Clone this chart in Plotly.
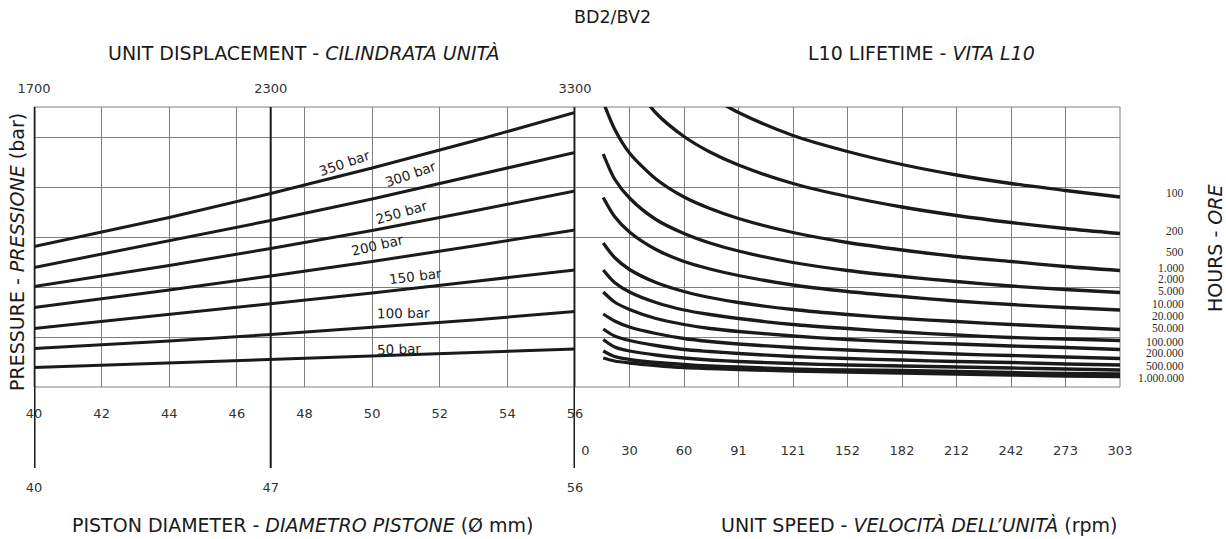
import plotly.graph_objects as go

# ---------------- data ----------------
# Left panel: pressure lines vs piston diameter (y = common load scale, grid units)
DIAMETER = [40, 44, 47, 50, 53, 56]
P350 = [2.81, 3.39, 3.87, 4.38, 4.92, 5.49]
P300 = [2.39, 2.92, 3.33, 3.76, 4.22, 4.69]
P250 = [2.01, 2.43, 2.77, 3.13, 3.52, 3.92]
P200 = [1.59, 1.94, 2.22, 2.51, 2.82, 3.14]
P150 = [1.17, 1.45, 1.66, 1.88, 2.11, 2.34]
P100 = [0.77, 0.92, 1.05, 1.19, 1.34, 1.51]
P50 = [0.39, 0.48, 0.55, 0.62, 0.69, 0.76]
PRESSURE_LINES = [P50, P100, P150, P200, P250, P300, P350]
PRESSURE_LABELS = ["50 bar", "100 bar", "150 bar", "200 bar", "250 bar", "300 bar", "350 bar"]
LABEL_D = [50.78, 50.93, 51.29, 50.16, 50.88, 51.13, 49.18]
LABEL_Y = [0.76, 1.49, 2.22, 2.84, 3.51, 4.27, 4.48]
LABEL_ANGLE = [-2, -1, -7, -13, -16, -19, -19]

DIAM_TICKS = [40, 42, 44, 46, 48, 50, 52, 54, 56]
DISP_TICKS = [40, 47, 56]
DISP_LABELS = ["1700", "2300", "3300"]
DIAM_MAIN = ["40", "47", "56"]

# Right panel: L10 lifetime curves vs unit speed
SPEED = [15.7, 22, 30.3, 45, 60.6, 75, 90.9, 121.2, 151.5, 181.8, 212.1, 242.4, 272.7, 303]
H100 = [None, None, None, None, None, 5.81, 5.49, 5.03, 4.71, 4.45, 4.24, 4.07, 3.93, 3.80]
H200 = [None, None, 6.18, 5.48, 5.01, 4.70, 4.44, 4.07, 3.81, 3.60, 3.43, 3.29, 3.17, 3.07]
H500 = [5.70, 5.16, 4.68, 4.16, 3.80, 3.57, 3.37, 3.09, 2.89, 2.74, 2.61, 2.51, 2.41, 2.33]
H1K = [4.66, 4.16, 3.78, 3.35, 3.07, 2.88, 2.72, 2.49, 2.33, 2.21, 2.11, 2.02, 1.95, 1.89]
H2K = [3.79, 3.41, 3.10, 2.75, 2.51, 2.36, 2.23, 2.04, 1.91, 1.81, 1.72, 1.65, 1.59, 1.54]
H5K = [2.88, 2.59, 2.35, 2.09, 1.91, 1.79, 1.69, 1.55, 1.45, 1.37, 1.31, 1.25, 1.20, 1.15]
H10K = [2.34, 2.09, 1.90, 1.69, 1.54, 1.45, 1.37, 1.25, 1.17, 1.10, 1.04, 0.99, 0.96, 0.93]
H20K = [1.90, 1.70, 1.55, 1.37, 1.25, 1.17, 1.11, 1.02, 0.95, 0.90, 0.86, 0.82, 0.79, 0.75]
H50K = [1.46, 1.32, 1.20, 1.07, 0.97, 0.91, 0.86, 0.79, 0.74, 0.70, 0.66, 0.63, 0.60, 0.57]
H100K = [1.16, 1.02, 0.93, 0.83, 0.75, 0.71, 0.67, 0.61, 0.57, 0.54, 0.51, 0.49, 0.46, 0.44]
H200K = [0.95, 0.80, 0.72, 0.64, 0.58, 0.54, 0.51, 0.47, 0.44, 0.42, 0.40, 0.38, 0.36, 0.34]
H500K = [0.72, 0.61, 0.55, 0.49, 0.45, 0.42, 0.40, 0.36, 0.34, 0.33, 0.31, 0.29, 0.27, 0.26]
H1M = [0.58, 0.52, 0.48, 0.43, 0.39, 0.37, 0.35, 0.32, 0.30, 0.28, 0.26, 0.24, 0.22, 0.21]
LIFE_CURVES = [H100, H200, H500, H1K, H2K, H5K, H10K, H20K, H50K, H100K, H200K, H500K, H1M]

SPEED_TICKS = [0, 30.3, 60.6, 90.9, 121.2, 151.5, 181.8, 212.1, 242.4, 272.7, 303]
SPEED_LABELS = ["0", "30", "60", "91", "121", "152", "182", "212", "242", "273", "303"]

HOUR_POS = [3.88, 3.12, 2.70, 2.38, 2.16, 1.92, 1.66, 1.42, 1.18, 0.90, 0.68, 0.42, 0.18]
HOUR_LABELS = ["100", "200", "500", "1.000", "2.000", "5.000", "10.000", "20.000",
               "50.000", "100.000", "200.000", "500.000", "1.000.000"]

# ---------------- figure ----------------
W, H = 1226, 539
ML, MR, MT, MB = 34, 36, 107, 152
PW = W - ML - MR
PH = H - MT - MB
S_LEFT, S_TOP, S_BOTTOM = ML, MT, H - MB        # pixel positions of plot area
dL = (575 - S_LEFT) / PW
dR = (1120 - S_LEFT) / PW

GRID = "#7f7f7f"
INK = "#1a1a1a"
FONT = "DejaVu Sans"
tickfont = dict(family=FONT, size=13, color="#333333")

fig = go.Figure()

for vals in PRESSURE_LINES:
    fig.add_trace(go.Scatter(x=DIAMETER, y=vals, mode="lines", xaxis="x", yaxis="y",
                             line=dict(color=INK, width=3),
                             hoverinfo="skip", showlegend=False))

for vals in LIFE_CURVES:
    fig.add_trace(go.Scatter(x=SPEED, y=vals, mode="lines", xaxis="x2", yaxis="y",
                             line=dict(color=INK, width=3.3, shape="spline", smoothing=0.8),
                             connectgaps=False, hoverinfo="skip", showlegend=False))

# empty traces so that the secondary axes (displacement, main diameters) are drawn
for xa in ["x3", "x4"]:
    fig.add_trace(go.Scatter(x=[], y=[], mode="lines", xaxis=xa, yaxis="y",
                             hoverinfo="skip", showlegend=False))

speed_text = ["\u00a0" * 5 + SPEED_LABELS[0]] + SPEED_LABELS[1:]

fig.update_layout(
    width=W, height=H,
    margin=dict(l=ML, r=MR, t=MT, b=MB),
    paper_bgcolor="white", plot_bgcolor="white",
    showlegend=False,
    xaxis=dict(domain=[0, dL], range=[40, 56], tickvals=DIAM_TICKS, ticks="",
               showgrid=True, gridcolor=GRID, gridwidth=1, zeroline=False, showline=False,
               tickfont=tickfont, ticklabelstandoff=17, anchor="y"),
    xaxis2=dict(domain=[dL, dR], range=[0, 303], tickvals=SPEED_TICKS, ticktext=speed_text,
                ticks="", showgrid=True, gridcolor=GRID, gridwidth=1, zeroline=False,
                showline=False, tickfont=tickfont, ticklabelstandoff=54, anchor="y"),
    xaxis3=dict(overlaying="x", side="top", range=[40, 56], tickvals=DISP_TICKS,
                ticktext=DISP_LABELS, ticks="", showgrid=False, zeroline=False,
                tickfont=tickfont, ticklabelstandoff=10, anchor="y"),
    xaxis4=dict(overlaying="x", side="bottom", range=[40, 56], tickvals=DISP_TICKS,
                ticktext=DIAM_MAIN, ticks="", showgrid=False, zeroline=False,
                tickfont=tickfont, ticklabelstandoff=91, anchor="y"),
    yaxis=dict(domain=[0, 1], range=[0, 5.6], tick0=0, dtick=1, showticklabels=False,
               ticks="", showgrid=True, gridcolor=GRID, gridwidth=1, zeroline=False,
               showline=False, anchor="x"),
)

shapes = []
for xr in ["x domain", "x2 domain"]:
    shapes.append(dict(type="rect", xref=xr, yref="y domain", x0=0, x1=1, y0=0, y1=1,
                       line=dict(color=GRID, width=1), layer="below"))
ext = -(468 - S_BOTTOM) / PH
for xv, wd in [(40, 3), (47, 2), (56, 3)]:
    shapes.append(dict(type="line", xref="x", yref="paper", x0=xv, x1=xv, y0=ext, y1=1,
                       line=dict(color=INK, width=wd)))
fig.update_layout(shapes=shapes)


def px_x(p):
    return (p - S_LEFT) / PW


def px_y(p):
    return (S_BOTTOM - p) / PH


def label(text, sx, sy, size=19, angle=0):
    return dict(text=text, x=px_x(sx), y=px_y(sy), xref="paper", yref="paper",
                xanchor="center", yanchor="middle", showarrow=False, textangle=angle,
                font=dict(family=FONT, size=size, color=INK))


ann = [
    label("BD2/BV2", 612, 17, size=17.5),
    label("UNIT DISPLACEMENT - <i>CILINDRATA UNITÀ</i>", 303, 53),
    label("L10 LIFETIME - <i>VITA L10</i>", 921, 53),
    label("PISTON DIAMETER - <i>DIAMETRO PISTONE</i> (Ø mm)", 303, 525),
    label("UNIT SPEED - <i>VELOCITÀ DELL’UNITÀ</i> (rpm)", 919, 525),
    label("PRESSURE - <i>PRESSIONE</i> (bar)", 17, 252, angle=-90),
    label("HOURS - <i>ORE</i>", 1215, 248, angle=-90),
]
for t, xd, yd, a in zip(PRESSURE_LABELS, LABEL_D, LABEL_Y, LABEL_ANGLE):
    ann.append(dict(text=t, x=xd, y=yd, xref="x", yref="y", showarrow=False, textangle=a,
                    xanchor="center", yanchor="middle",
                    font=dict(family=FONT, size=13.5, color=INK)))
# hours scale labels, right-aligned, placed on the shared load axis
for t, yv in zip(HOUR_LABELS, HOUR_POS):
    ann.append(dict(text=t, x=px_x(1186), y=yv, xref="paper", yref="y", showarrow=False,
                    xanchor="right", yanchor="middle",
                    font=dict(family="Liberation Serif", size=11.5, color="#2a2a2a")))
fig.update_layout(annotations=ann)

# the page should show the figure edge to edge in the 1226x539 window
fig.write_html("out.html",
               config={"displayModeBar": False},
               post_script="document.body.style.margin='0px';"
                           "document.body.style.overflow='hidden';")
